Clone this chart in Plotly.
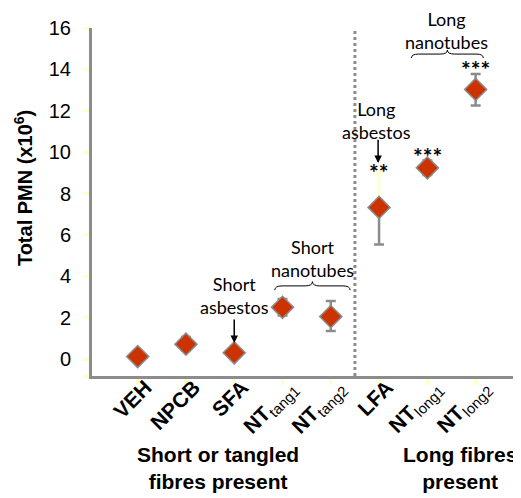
import plotly.graph_objects as go

categories = ["VEH", "NPCB", "SFA", "NTtang1", "NTtang2", "LFA", "NTlong1", "NTlong2"]
tick_labels = ["<b>VEH</b>", "<b>NPCB</b>", "<b>SFA</b>",
               "<b>NT</b><sub>tang1</sub>", "<b>NT</b><sub>tang2</sub>",
               "<b>LFA</b>", "<b>NT</b><sub>long1</sub>", "<b>NT</b><sub>long2</sub>"]
pmn_mean = [0.12, 0.72, 0.3, 2.5, 2.05, 7.33, 9.24, 13.03]
err_up = [0.05, 0.35, 0.05, 0.4, 0.75, 1.7, 0.35, 0.75]
err_down = [0.05, 0.3, 0.05, 0.4, 0.7, 1.8, 0.35, 0.77]
significance = ["", "", "", "", "", "**", "***", "***"]
y_ticks = [0, 2, 4, 6, 8, 10, 12, 14, 16]
y_tick_labels = ["0", "2", "4", "6", "8", "10", "12", "14", "16"]

xs = list(range(len(categories)))
GRAY = "#8c8c8c"
PALE = "#ffffc8"
LFA_IDX = categories.index("LFA")
Y_MIN = -0.82

fig = go.Figure()

# lower error bars (gray)
fig.add_trace(go.Scatter(
    x=xs, y=pmn_mean, mode="markers", marker=dict(opacity=0),
    error_y=dict(type="data", symmetric=False, array=[0] * len(xs),
                 arrayminus=err_down, color=GRAY, thickness=2.5, width=5),
    showlegend=False, hoverinfo="skip"))
# upper error bars (gray, all except LFA)
up_gray = [0 if i == LFA_IDX else v for i, v in enumerate(err_up)]
fig.add_trace(go.Scatter(
    x=xs, y=pmn_mean, mode="markers", marker=dict(opacity=0),
    error_y=dict(type="data", symmetric=False, array=up_gray,
                 arrayminus=[0] * len(xs), color=GRAY, thickness=2.5, width=5),
    showlegend=False, hoverinfo="skip"))
# upper error bar for LFA (pale yellow)
fig.add_trace(go.Scatter(
    x=[xs[LFA_IDX]], y=[pmn_mean[LFA_IDX]], mode="markers", marker=dict(opacity=0),
    error_y=dict(type="data", symmetric=False, array=[err_up[LFA_IDX]],
                 arrayminus=[0], color=PALE, thickness=2.5, width=5),
    showlegend=False, hoverinfo="skip"))
# markers
fig.add_trace(go.Scatter(
    x=xs, y=pmn_mean, mode="markers",
    marker=dict(symbol="diamond", size=17, color="#cc3300",
                line=dict(color="#8c8c8c", width=1.5)),
    showlegend=False, cliponaxis=False))

# significance stars
for i, s in enumerate(significance):
    if s:
        fig.add_annotation(x=xs[i], y=pmn_mean[i] + err_up[i], text="<b>" + s + "</b>",
                           showarrow=False, yanchor="bottom",
                           yshift=-16 if i == LFA_IDX else -11,
                           font=dict(family="Lato", size=23, color="black"))

ann_font = dict(family="Lato", size=18, color="black")

# Short asbestos
fig.add_annotation(x=2.01, y=3.09, text="Short<br>asbestos", showarrow=False,
                   font=ann_font, yanchor="middle")
fig.add_annotation(x=2.0, y=0.77, ax=2.0, ay=1.98, axref="x", ayref="y",
                   showarrow=True, arrowhead=2, arrowsize=1, arrowwidth=1.5,
                   arrowcolor="black", text="")
# Short nanotubes
fig.add_annotation(x=3.63, y=4.87, text="Short<br>nanotubes", showarrow=False,
                   font=ann_font, yanchor="middle")
# Long asbestos
fig.add_annotation(x=4.95, y=11.55, text="Long<br>asbestos", showarrow=False,
                   font=ann_font, yanchor="middle")
fig.add_annotation(x=4.98, y=9.47, ax=4.98, ay=10.67, axref="x", ayref="y",
                   showarrow=True, arrowhead=2, arrowsize=1, arrowwidth=1.5,
                   arrowcolor="black", text="")
# Long nanotubes
fig.add_annotation(x=6.4, y=1.0, yref="paper", yshift=-2, text="Long<br>nanotubes",
                   showarrow=False, font=ann_font, yanchor="middle")


def brace(x0, x1, yb, h):
    xm = (x0 + x1) / 2
    q = h / 2
    return (f"M {x0},{yb} Q {x0},{yb + q} {x0 + 0.15},{yb + q} "
            f"L {xm - 0.15},{yb + q} Q {xm},{yb + q} {xm},{yb + h} "
            f"Q {xm},{yb + q} {xm + 0.15},{yb + q} "
            f"L {x1 - 0.15},{yb + q} Q {x1},{yb + q} {x1},{yb}")


fig.add_shape(type="path", path=brace(2.84, 4.4, 3.33, 0.41), xref="x", yref="y",
              line=dict(color="black", width=1))
fig.add_shape(type="path", path=brace(5.67, 7.16, 14.55, 0.38), xref="x", yref="y",
              line=dict(color="black", width=1))

# dashed divider
fig.add_shape(type="line", x0=4.5, x1=4.5, y0=-7.2, y1=16.4, xref="x", yref="y",
              line=dict(color="#8c8c8c", width=3, dash="dot"))

# y-axis title
fig.add_annotation(x=0, y=0.54, xref="paper", yref="paper", xshift=-69,
                   text="<b>Total PMN (x10<sup>6</sup>)</b>", textangle=-90,
                   showarrow=False, xanchor="center", yanchor="middle",
                   font=dict(family="Arial", size=20, color="black"))

# group labels
grp_font = dict(family="Arial", size=21, color="black")
fig.add_annotation(x=1.66, y=-0.263, xref="x", yref="paper",
                   text="<b>Short or tangled<br>fibres present</b>",
                   showarrow=False, font=grp_font, yanchor="middle")
fig.add_annotation(x=6.67, y=-0.263, xref="x", yref="paper",
                   text="<b>Long fibres<br>present</b>",
                   showarrow=False, font=grp_font, yanchor="middle")

# page body has an 8px margin, so the figure is 8px smaller than the window
fig.update_layout(
    width=513, height=490,
    margin=dict(l=84, r=0, t=20, b=122),
    plot_bgcolor="white", paper_bgcolor="white",
    xaxis=dict(range=[-0.946, 7.94], tickmode="array", tickvals=xs,
               ticktext=tick_labels, tickangle=-45, automargin=False,
               tickfont=dict(family="Arial", size=21, color="black"),
               ticklabelstandoff=-18, ticklabelshift=8,
               showline=True, linecolor=GRAY, linewidth=3,
               ticks="outside", ticklen=6, tickwidth=3, tickcolor=PALE,
               showgrid=False, zeroline=False),
    yaxis=dict(range=[Y_MIN, 16.0], tickmode="array",
               tickvals=[Y_MIN] + y_ticks, ticktext=[""] + y_tick_labels,
               automargin=False,
               tickfont=dict(family="Arial", size=20, color="black"),
               showline=True, linecolor=GRAY, linewidth=3,
               ticks="outside", ticklen=6, tickwidth=3, tickcolor=PALE,
               ticklabelstandoff=8,
               showgrid=False, zeroline=False),
)

fig.write_html("out.html")
